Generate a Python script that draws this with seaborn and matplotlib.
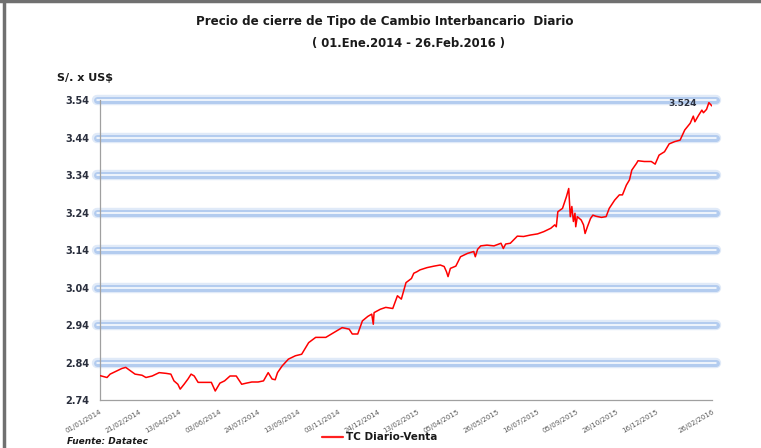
import numpy as np
import pandas as pd
import matplotlib
matplotlib.use('Agg')
import matplotlib.pyplot as plt
import matplotlib.dates as mdates
from matplotlib.lines import Line2D
import seaborn as sns


# values
FECHAS = [
    '2014-01-01', '2014-01-10', '2014-01-14', '2014-01-23', '2014-01-29', '2014-02-03',
    '2014-02-09', '2014-02-15', '2014-02-24', '2014-03-01', '2014-03-09', '2014-03-18',
    '2014-03-27', '2014-04-02', '2014-04-06', '2014-04-11', '2014-04-14', '2014-04-19',
    '2014-04-24', '2014-04-28', '2014-05-02', '2014-05-07', '2014-05-15', '2014-05-24',
    '2014-05-29', '2014-06-04', '2014-06-10', '2014-06-17', '2014-06-25', '2014-07-02',
    '2014-07-08', '2014-07-15', '2014-07-23', '2014-07-30', '2014-08-05', '2014-08-10',
    '2014-08-14', '2014-08-17', '2014-08-23', '2014-08-31', '2014-09-09', '2014-09-17',
    '2014-09-26', '2014-10-05', '2014-10-18', '2014-10-27', '2014-11-08', '2014-11-17',
    '2014-11-21', '2014-11-28', '2014-12-04', '2014-12-11', '2014-12-16', '2014-12-18',
    '2014-12-19', '2014-12-27', '2015-01-03', '2015-01-12', '2015-01-18', '2015-01-23',
    '2015-01-29', '2015-02-05', '2015-02-08', '2015-02-12', '2015-02-16', '2015-02-25',
    '2015-03-06', '2015-03-14', '2015-03-19', '2015-03-22', '2015-03-24', '2015-03-27',
    '2015-04-03', '2015-04-09', '2015-04-18', '2015-04-26', '2015-04-28', '2015-05-01',
    '2015-05-05', '2015-05-13', '2015-05-22', '2015-05-31', '2015-06-03', '2015-06-06',
    '2015-06-12', '2015-06-21', '2015-06-29', '2015-07-08', '2015-07-17', '2015-07-25',
    '2015-08-03', '2015-08-08', '2015-08-10', '2015-08-12', '2015-08-18', '2015-08-23',
    '2015-08-26', '2015-08-28', '2015-08-30', '2015-09-01', '2015-09-03', '2015-09-04',
    '2015-09-06', '2015-09-11', '2015-09-14', '2015-09-16', '2015-09-19', '2015-09-23',
    '2015-09-26', '2015-09-30', '2015-10-07', '2015-10-13', '2015-10-17', '2015-10-24',
    '2015-10-30', '2015-11-03', '2015-11-08', '2015-11-12', '2015-11-15', '2015-11-21',
    '2015-11-23', '2015-12-01', '2015-12-10', '2015-12-15', '2015-12-20', '2015-12-27',
    '2016-01-02', '2016-01-09', '2016-01-16', '2016-01-22', '2016-01-29', '2016-02-02',
    '2016-02-04', '2016-02-09', '2016-02-13', '2016-02-15', '2016-02-19', '2016-02-22',
    '2016-02-26',
]
TC_VENTA = [
    2.805, 2.800, 2.809, 2.818, 2.824, 2.827,
    2.818, 2.809, 2.806, 2.800, 2.804, 2.813,
    2.811, 2.809, 2.791, 2.782, 2.769, 2.782,
    2.796, 2.809, 2.804, 2.787, 2.787, 2.787,
    2.764, 2.785, 2.791, 2.804, 2.804, 2.782,
    2.785, 2.788, 2.788, 2.791, 2.813, 2.796,
    2.794, 2.813, 2.831, 2.849, 2.858, 2.862,
    2.893, 2.907, 2.907, 2.918, 2.933, 2.929,
    2.916, 2.916, 2.951, 2.963, 2.969, 2.942,
    2.973, 2.982, 2.987, 2.984, 3.018, 3.009,
    3.053, 3.064, 3.078, 3.082, 3.087, 3.093,
    3.097, 3.100, 3.096, 3.082, 3.069, 3.091,
    3.097, 3.122, 3.131, 3.136, 3.122, 3.142,
    3.151, 3.153, 3.151, 3.158, 3.144, 3.156,
    3.158, 3.177, 3.176, 3.180, 3.183, 3.189,
    3.198, 3.207, 3.202, 3.242, 3.251, 3.282,
    3.304, 3.229, 3.256, 3.216, 3.238, 3.202,
    3.229, 3.220, 3.207, 3.184, 3.202, 3.224,
    3.233, 3.230, 3.227, 3.229, 3.251, 3.273,
    3.287, 3.287, 3.313, 3.327, 3.353, 3.371,
    3.378, 3.376, 3.376, 3.369, 3.393, 3.402,
    3.423, 3.429, 3.433, 3.460, 3.478, 3.497,
    3.482, 3.500, 3.513, 3.506, 3.515, 3.533,
    3.524,
]

Y_TICKS = [2.74, 2.84, 2.94, 3.04, 3.14, 3.24, 3.34, 3.44, 3.54]
X_TICK_LABELS = [
    '01/01/2014', '21/02/2014', '13/04/2014', '03/06/2014', '24/07/2014',
    '13/09/2014', '03/11/2014', '24/12/2014', '13/02/2015', '05/04/2015',
    '26/05/2015', '16/07/2015', '05/09/2015', '26/10/2015', '16/12/2015',
    '26/02/2016',
]
ULTIMO_VALOR = '3.524'


df = pd.DataFrame({'fecha': pd.to_datetime(FECHAS), 'tc': TC_VENTA})
x_ticks = pd.to_datetime(X_TICK_LABELS, format='%d/%m/%Y')

sns.set_style('white')
plt.rcParams['font.family'] = ['DejaVu Sans']

fig = plt.figure(figsize=(7.61, 4.48), dpi=100)
ax = fig.add_axes([100 / 761, 48 / 448, 612 / 761, 300 / 448])

# glowing Excel-style gridlines
for y in Y_TICKS[1:]:
    for lw, col in [(7.5, '#e0eaf8'), (5, '#b3ccef'), (1.1, 'white')]:
        ax.axhline(y, xmin=-0.005, xmax=1.007, lw=lw, color=col,
                   solid_capstyle='round', clip_on=False, zorder=1)

sns.lineplot(data=df, x='fecha', y='tc', color='#ff0000', lw=1.1,
             ax=ax, zorder=3, legend=False)

ax.set_xlim(x_ticks[0], x_ticks[-1])
ax.set_ylim(Y_TICKS[0], Y_TICKS[-1])
ax.set_yticks(Y_TICKS)
ax.set_yticklabels([f'{v:.2f}' for v in Y_TICKS], fontsize=7,
                   fontweight='bold', color='#2a2f3d')
ax.set_xticks(x_ticks)
ax.set_xticklabels(X_TICK_LABELS, rotation=30, ha='right',
                   rotation_mode='anchor', fontsize=5, color='#5a5a5a')
ax.tick_params(axis='y', length=3, width=0.8, color='#a0a0a0', pad=5)
ax.tick_params(axis='x', length=4, width=0.8, color='#a0a0a0', pad=2)
ax.set_xlabel('')
ax.set_ylabel('')
for side in ['top', 'right']:
    ax.spines[side].set_visible(False)
for side in ['left', 'bottom']:
    ax.spines[side].set_color('#a0a0a0')
    ax.spines[side].set_linewidth(0.9)

# last value label
ax.annotate(ULTIMO_VALOR, xy=(df['fecha'].iloc[-1], df['tc'].iloc[-1]),
            xytext=(-11, 2), textcoords='offset points', ha='right',
            va='center', fontsize=6.5, fontweight='bold', color='#2a2f3d')

# titles and notes
fig.text(385 / 761, 1 - 22 / 448,
         'Precio de cierre de Tipo de Cambio Interbancario  Diario',
         ha='center', va='center', fontsize=8.6, fontweight='bold',
         color='#1a1a1a')
fig.text(408 / 761, 1 - 44 / 448, '( 01.Ene.2014 - 26.Feb.2016 )',
         ha='center', va='center', fontsize=8.4, fontweight='bold',
         color='#1a1a1a')
fig.text(57 / 761, 1 - 78 / 448, 'S/. x US$', ha='left', va='center',
         fontsize=8, fontweight='bold', color='#1a1a1a')
fig.text(67 / 761, 1 - 441 / 448, 'Fuente: Datatec', ha='left',
         va='center', fontsize=6.5, fontweight='bold', style='italic',
         color='#1a1a1a')

# legend entry below the axis
fig.add_artist(Line2D([322 / 761, 343 / 761], [1 - 437 / 448] * 2,
                      color='#ff2020', lw=1.6))
fig.text(346 / 761, 1 - 437 / 448, 'TC Diario-Venta', ha='left',
         va='center', fontsize=7.5, fontweight='bold', color='#1a1a1a')

# outer frame (top and left)
fig.add_artist(Line2D([0, 1], [1 - 1.5 / 448] * 2, color='#707070', lw=2.5))
fig.add_artist(Line2D([3.5 / 761] * 2, [0, 1], color='#707070', lw=2.5))

fig.savefig('out.png', dpi=100)
